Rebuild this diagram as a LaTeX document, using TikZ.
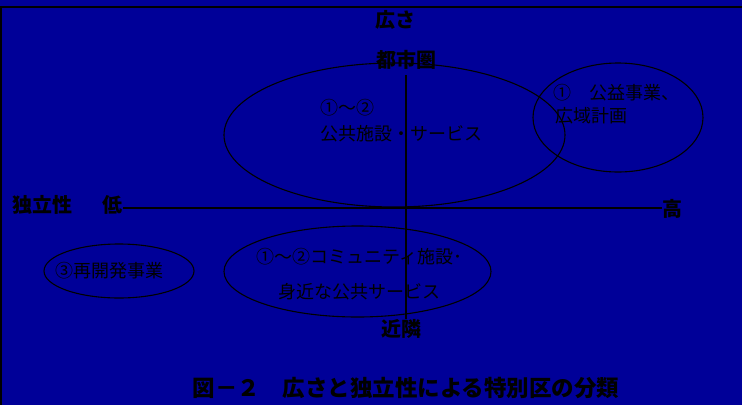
\documentclass[tikz,border=0pt]{standalone}
\usepackage{fontspec}
\usetikzlibrary{shapes.geometric}
\newfontfamily\jp{Noto Sans CJK JP}
\definecolor{bg}{RGB}{0,0,152}
\begin{document}
\begin{tikzpicture}[x=1pt,y=-1pt,
  lab/.style={font=\jp\bfseries\fontsize{20}{20}\selectfont, inner sep=0pt, text=black},
  txt/.style={font=\jp\fontsize{18}{18}\selectfont, inner sep=0pt, anchor=west, text=black},
  captext/.style={font=\jp\bfseries\fontsize{22.5}{22.5}\selectfont, inner sep=0pt, text=black},
  ell/.style={draw=black, ellipse, line width=1.1pt, inner sep=0pt, outer sep=0pt},
  axisline/.style={draw=black, line width=1.6pt},
  frameline/.style={draw=black, line width=1.4pt}]
\fill[bg] (0,0) rectangle (742,405);
\useasboundingbox (0,0) rectangle (742,405);
% frame
\coordinate (ftl) at (0,7);
\coordinate (ftr) at (742,7);
\coordinate (fbl) at (1,405);
\draw[frameline] (ftl) -- (ftr);
\draw[frameline] (1,7) -- (fbl);
% ellipses
\node[ell, minimum width=341pt, minimum height=144pt] (bigE) at (394.5,135) {};
\node[ell, minimum width=170pt, minimum height=109pt] (rightE) at (618,117.5) {};
\node[ell, minimum width=150pt, minimum height=54pt] (leftE) at (119,271) {};
\node[ell, minimum width=267pt, minimum height=91pt] (bottomE) at (357.5,271.5) {};
% axis labels
\node[lab] (hirosa) at (395,20) {広さ};
\node[lab] (toshi) at (406,60) {都市圏};
\node[lab] (kinrin) at (401,329) {近隣};
\node[lab, anchor=east] (low) at (123,205) {独立性\hspace{30pt}低};
\node[lab, anchor=west] (high) at (662,209) {高};
% axes
\draw[axisline] ([yshift=-3pt]low.east) -- ([yshift=-3pt]low.east -| high.west);
\draw[axisline] ([yshift=-5pt]toshi.south) -- (toshi.south |- kinrin.north);
% ellipse texts
\node[txt] (t1a) at (320,108) {①〜②};
\node[txt] (t1b) at (320,134) {公共施設・サービス};
\node[txt] (t2a) at (553,93) {①　公益事業、};
\node[txt] (t2b) at (555,116) {広域計画};
\node[txt] (t3) at (55,271) {③再開発事業};
\node[txt] (t4a) at (256,257) {①〜②コミュニティ施設･};
\node[txt] (t4b) at (278,292) {身近な公共サービス};
% caption
\node[captext] (caption) at (406,388) {図－２　広さと独立性による特別区の分類};
\end{tikzpicture}
\end{document}
